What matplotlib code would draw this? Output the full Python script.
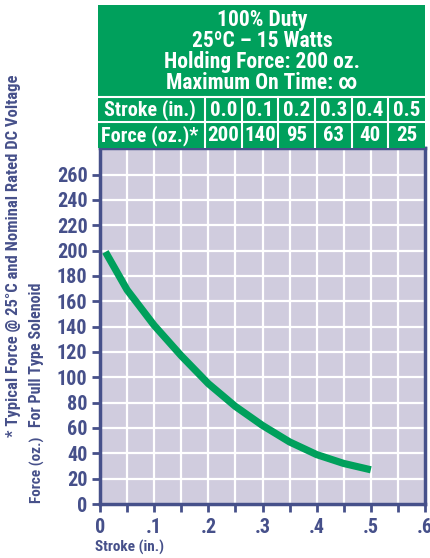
import matplotlib.pyplot as plt
import numpy as np

# curve
stroke = [0.01, 0.05, 0.1, 0.15, 0.2, 0.25, 0.3, 0.35, 0.4, 0.45, 0.5]
force = [199, 169, 141, 117, 95, 77, 62, 49, 39, 32, 27]

# table in the header
table_stroke = ['0.0', '0.1', '0.2', '0.3', '0.4', '0.5']
table_force = ['200', '140', '95', '63', '40', '25']
header_lines = ['100% Duty', '25ºC – 15 Watts', 'Holding Force: 200 oz.', 'Maximum On Time: ∞']

x_ticks = [0, 0.1, 0.2, 0.3, 0.4, 0.5, 0.6]
x_labels = ['0', '.1', '.2', '.3', '.4', '.5', '.6']
y_ticks = list(range(0, 261, 20))

green = '#00a05c'
navy = '#46508a'
bg = '#d0ccde'

plt.rcParams['font.family'] = ['Roboto Condensed', 'Fira Sans Condensed', 'DejaVu Sans']
plt.rcParams['font.weight'] = 'bold'

W, H = 430, 558
fig = plt.figure(figsize=(W / 100, H / 100), dpi=100)


def box(x0, y0, x1, y1):
    # pixel box -> figure coords
    return [x0 / W, 1 - y1 / H, (x1 - x0) / W, (y1 - y0) / H]


# main plot
ax = fig.add_axes(box(100, 148, 425, 504))
ax.set_facecolor(bg)
ax.set_xlim(0, 0.6)
ax.set_ylim(0, 281)
ax.set_xticks(np.arange(0, 0.601, 0.05))
ax.set_xticklabels(['' if i % 2 else x_labels[i // 2] for i in range(13)])
ax.set_yticks(y_ticks)
ax.grid(True, color='white', linewidth=1.6)
ax.set_axisbelow(True)
ax.plot(stroke, force, color=green, linewidth=5.2, solid_capstyle='butt',
        solid_joinstyle='round')
for s in ax.spines.values():
    s.set_color(navy)
    s.set_linewidth(2.5)
ax.tick_params(colors=navy, width=2, length=6, labelsize=14.5, pad=3)
ax.tick_params(axis='x', pad=4)
for lab in ax.get_xticklabels() + ax.get_yticklabels():
    lab.set_fontweight('bold')

fig.text(95 / W, 1 - 547 / H, 'Stroke (in.)', color=navy, fontsize=11,
         fontweight='bold', ha='left', va='center')
fig.text(14 / W, 1 - 437 / H, '* Typical Force @ 25°C and Nominal Rated DC Voltage',
         color=navy, fontsize=12, fontweight='bold', rotation=90, ha='center', va='bottom')
fig.text(37 / W, 1 - 427 / H, 'For Pull Type Solenoid', color=navy, fontsize=11.5,
         fontweight='bold', rotation=90, ha='center', va='bottom')
fig.text(37 / W, 1 - 503 / H, 'Force (oz.)', color=navy, fontsize=11,
         fontweight='bold', rotation=90, ha='center', va='bottom')

# green header with the table
hx = fig.add_axes(box(98, 5, 425, 148))
hx.set_xlim(98, 425)
hx.set_ylim(148, 5)
hx.set_facecolor(green)
hx.set_xticks([])
hx.set_yticks([])
for s in hx.spines.values():
    s.set_visible(False)

for i, line in enumerate(header_lines):
    hx.text(262, 20 + i * 21, line, color='white', fontsize=15.5, fontweight='bold',
            ha='center', va='center')

hx.axhline(97, color='white', linewidth=1.5)
hx.axhline(122, color='white', linewidth=1.5)
col_w = (425 - 205) / len(table_stroke)
for i in range(len(table_stroke)):
    x0 = 205 + i * col_w
    hx.plot([x0, x0], [97, 148], color='white', linewidth=1.5)
    hx.text(x0 + col_w / 2, 110, table_stroke[i], color='white', fontsize=15,
            fontweight='bold', ha='center', va='center')
    hx.text(x0 + col_w / 2, 135.5, table_force[i], color='white', fontsize=15,
            fontweight='bold', ha='center', va='center')
hx.text(150, 110, 'Stroke (in.)', color='white', fontsize=14.5, fontweight='bold',
        ha='center', va='center')
hx.text(150, 135.5, 'Force (oz.)*', color='white', fontsize=14.5, fontweight='bold',
        ha='center', va='center')

fig.savefig('out.png', dpi=100)
